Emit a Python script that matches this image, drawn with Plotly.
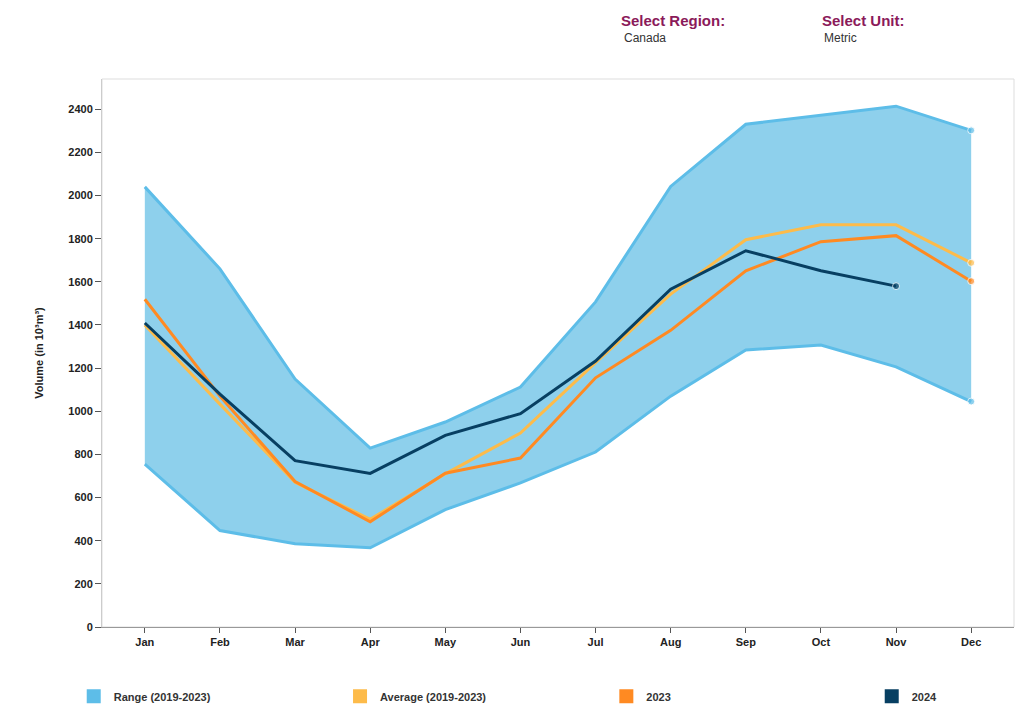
import plotly.graph_objects as go

months = ["Jan", "Feb", "Mar", "Apr", "May", "Jun", "Jul", "Aug", "Sep", "Oct", "Nov", "Dec"]

range_high = [2040, 1660, 1149, 829, 950, 1112, 1507, 2042, 2330, 2372, 2414, 2302]
range_low = [755, 447, 386, 367, 544, 668, 811, 1070, 1284, 1307, 1206, 1045]
average = [1400, 1033, 671, 499, 710, 899, 1225, 1543, 1795, 1864, 1864, 1688]
y2023 = [1519, 1070, 674, 488, 713, 783, 1155, 1375, 1651, 1786, 1814, 1603]
y2024 = [1409, 1079, 771, 712, 888, 989, 1233, 1566, 1744, 1651, 1580]

legend_names = ["Range (2019-2023)", "Average (2019-2023)", "2023", "2024"]

c_range = "#5dbde8"
c_fill = "rgb(142,208,236)"
c_avg = "#fdbb4a"
c_2023 = "#ff8a22"
c_2024 = "#073f62"
legend_colors = [c_range, c_avg, c_2023, c_2024]
legend_x = [-0.031, 0.261, 0.553, 0.844]

FONT = "Liberation Sans, Arial, sans-serif"


def end_markers(n, size=7):
    return [0] * (n - 1) + [size]


fig = go.Figure()

fig.add_trace(go.Scatter(x=months, y=range_low, mode="lines+markers",
                         line=dict(color=c_range, width=3),
                         marker=dict(size=end_markers(12), color=c_range),
                         showlegend=False, hoverinfo="skip"))
fig.add_trace(go.Scatter(x=months, y=range_high, mode="lines+markers", fill="tonexty",
                         fillcolor=c_fill, line=dict(color=c_range, width=3),
                         marker=dict(size=end_markers(12), color=c_range),
                         showlegend=False, hoverinfo="skip"))
fig.add_trace(go.Scatter(x=months, y=average, mode="lines+markers",
                         line=dict(color=c_avg, width=3),
                         marker=dict(size=end_markers(12), color=c_avg),
                         showlegend=False))
fig.add_trace(go.Scatter(x=months, y=y2023, mode="lines+markers",
                         line=dict(color=c_2023, width=3),
                         marker=dict(size=end_markers(12), color=c_2023),
                         showlegend=False))
fig.add_trace(go.Scatter(x=months[:len(y2024)], y=y2024, mode="lines+markers",
                         line=dict(color=c_2024, width=3),
                         marker=dict(size=end_markers(len(y2024)), color=c_2024),
                         showlegend=False))

# one legend per entry so they spread across the bottom like the original
legend_layout = {}
for i, (name, col, lx) in enumerate(zip(legend_names, legend_colors, legend_x)):
    key = "legend" if i == 0 else "legend%d" % (i + 1)
    fig.add_trace(go.Scatter(x=[None], y=[None], mode="markers", name="<b>" + name + "</b>",
                             legend=key,
                             marker=dict(symbol="square", size=14, color=col,
                                         line=dict(width=0))))
    legend_layout[key] = dict(orientation="h", x=lx, xanchor="left", y=-0.100, yanchor="top",
                              font=dict(size=11, color="#333", family=FONT),
                              itemclick=False, itemdoubleclick=False)

# page body adds an 8px margin, so the figure is 8px smaller than the window
fig.update_layout(
    width=1016, height=709,
    margin=dict(l=94, r=10, t=71, b=90, autoexpand=False),
    paper_bgcolor="white", plot_bgcolor="white",
    font=dict(family=FONT, size=11, color="#333"),
    showlegend=True,
    xaxis=dict(type="category", range=[-0.57, 11.57], showgrid=False,
               showline=True, linecolor="#999", linewidth=1,
               ticks="outside", ticklen=5, tickcolor="#555",
               tickprefix="<b>", ticksuffix="</b>",
               tickfont=dict(size=11, color="#222"), zeroline=False),
    yaxis=dict(range=[0, 2540], dtick=200, showgrid=False,
               showline=True, linecolor="#ccc", linewidth=1,
               ticks="outside", ticklen=6, tickcolor="#555",
               tickprefix="<b>", ticksuffix="</b>",
               tickfont=dict(size=11, color="#222"), zeroline=False,
               title=dict(text="<b>Volume (in 10³m³)</b>", font=dict(size=11, color="#222"),
                          standoff=22)),
    shapes=[dict(type="rect", xref="paper", yref="paper", x0=0, x1=1, y0=0, y1=1,
                 line=dict(color="#ddd", width=1), layer="below")],
    annotations=[
        dict(text="<b>Select Region:</b>", xref="paper", yref="paper", x=0.567, y=1.106,
             xanchor="left", yanchor="middle", showarrow=False,
             font=dict(size=15, color="#8b1a5a")),
        dict(text="Canada", xref="paper", yref="paper", x=0.570, y=1.075,
             xanchor="left", yanchor="middle", showarrow=False,
             font=dict(size=12, color="#333")),
        dict(text="<b>Select Unit:</b>", xref="paper", yref="paper", x=0.787, y=1.106,
             xanchor="left", yanchor="middle", showarrow=False,
             font=dict(size=15, color="#8b1a5a")),
        dict(text="Metric", xref="paper", yref="paper", x=0.789, y=1.075,
             xanchor="left", yanchor="middle", showarrow=False,
             font=dict(size=12, color="#333")),
    ],
    **legend_layout,
)

fig.write_html("out.html")
